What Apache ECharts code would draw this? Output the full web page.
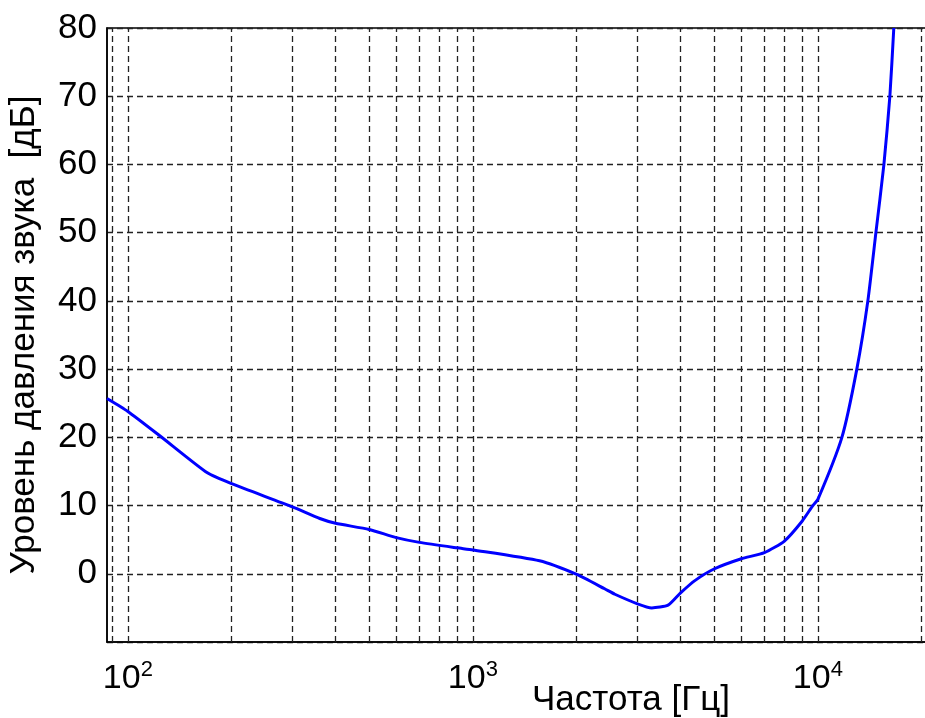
<!DOCTYPE html>
<html>
<head>
<meta charset="utf-8">
<script src="https://cdn.jsdelivr.net/npm/echarts@6/dist/echarts.min.js"></script>
<style>
  html, body { margin: 0; padding: 0; background: #fff; }
  #chart { width: 925px; height: 718px; }
</style>
</head>
<body>
<div id="chart"></div>
<script>
// Frequency (Hz) and sound pressure level (dB)
const frequencies = [87, 100, 124, 170, 200, 300, 360, 400, 500, 600, 700, 900, 1000, 1560, 2000, 2410, 2580, 3000, 3300, 3680, 4000, 4400, 5000, 6000, 7000, 8000, 9000, 9670, 10000, 11740, 12970, 13960, 14730, 15540, 16170, 16600];
const levels = [25.7, 23.8, 20.2, 14.8, 13.2, 9.8, 8.1, 7.4, 6.5, 5.3, 4.6, 3.8, 3.5, 1.9, -0.1, -2.2, -3.0, -4.4, -5.0, -4.6, -2.8, -1.0, 0.7, 2.2, 3.1, 4.8, 7.7, 10.0, 10.9, 20, 30, 40, 50, 60, 70, 80];
// Vertical (log) grid lines
const xGridValues = [90, 100, 200, 300, 400, 500, 600, 700, 800, 900, 1000, 2000, 3000, 4000, 5000, 6000, 7000, 8000, 9000, 10000, 20000];
const xMin = 87, xMax = 22000;
const yMin = -10, yMax = 80, yStep = 10;
const xTitle = 'Частота [Гц]';
const yTitle = 'Уровень давления звука  [дБ]';

const FONT = '"Liberation Sans", Arial, Helvetica, sans-serif';
const chart = echarts.init(document.getElementById('chart'), null, { renderer: 'canvas' });

const dash = { type: [6, 4], color: '#222', width: 1.3 };

chart.setOption({
  animation: false,
  backgroundColor: '#fff',
  title: {
    text: xTitle,
    left: 532,
    top: 683,
    padding: 0,
    textStyle: { fontFamily: FONT, fontSize: 35, fontWeight: 'normal', color: '#000' }
  },
  grid: {
    left: 107, top: 28, bottom: 76, right: -11,
    outerBoundsMode: 'none',
    containLabel: false,
    show: true, borderColor: '#000', borderWidth: 1.5, backgroundColor: '#fff'
  },
  xAxis: {
    type: 'log',
    logBase: 10,
    min: xMin,
    max: xMax,
    axisLine: { show: true, onZero: false, lineStyle: { color: '#000', width: 1.5 } },
    axisTick: { show: false },
    splitLine: { show: false },
    axisLabel: {
      margin: 17,
      color: '#000',
      fontFamily: FONT,
      formatter: function (v) {
        const e = Math.log10(v);
        if (Math.abs(e - Math.round(e)) > 1e-6) return '';
        return '{a|10}{b|' + Math.round(e) + '}';
      },
      rich: {
        a: { fontSize: 34, fontFamily: FONT, color: '#000', lineHeight: 40 },
        b: { fontSize: 22, fontFamily: FONT, color: '#000', verticalAlign: 'top', lineHeight: 22 }
      }
    }
  },
  yAxis: {
    type: 'value',
    min: yMin,
    max: yMax,
    interval: yStep,
    name: yTitle,
    nameLocation: 'middle',
    nameGap: 65,
    nameTextStyle: { fontFamily: FONT, fontSize: 35, color: '#000' },
    axisLine: { show: true, lineStyle: { color: '#000', width: 1.5 } },
    axisTick: { show: false },
    splitLine: { show: true, lineStyle: dash },
    axisLabel: {
      margin: 10,
      color: '#000',
      fontFamily: FONT,
      fontSize: 35,
      formatter: function (v) { return v === yMin ? '' : String(v); }
    }
  },
  series: [{
    type: 'line',
    data: frequencies.map((f, i) => [f, levels[i]]),
    showSymbol: false,
    smooth: 0.2,
    clip: true,
    lineStyle: { color: '#0000ff', width: 3 },
    markLine: {
      silent: true,
      symbol: ['none', 'none'],
      label: { show: false },
      lineStyle: dash,
      data: xGridValues.map(v => ({ xAxis: v }))
    },
    z: 5
  }]
});
</script>
</body>
</html>
